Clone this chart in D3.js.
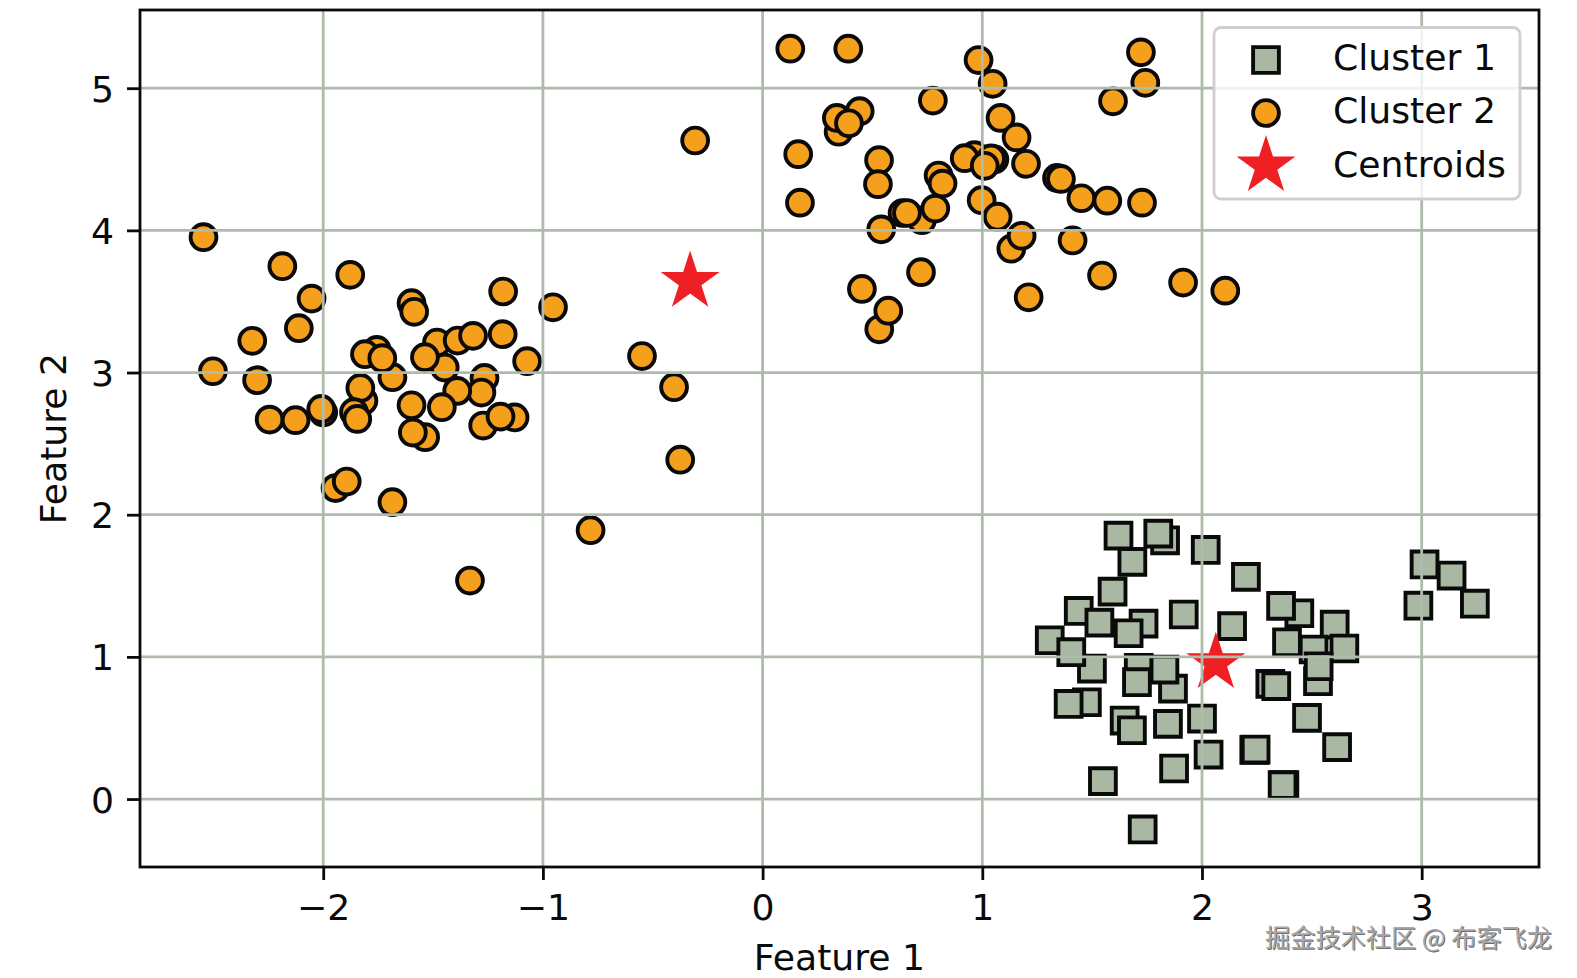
<!DOCTYPE html>
<html>
<head>
<meta charset="utf-8">
<style>
  html, body { margin: 0; padding: 0; background: #fff; }
  svg { display: block; }
  text { font-family: "DejaVu Sans", sans-serif; fill: #0a0a0a; }
</style>
<script src="https://cdn.jsdelivr.net/npm/d3@7"></script>
</head>
<body>
<svg id="chart"></svg>
<script>
// Values
const cluster1X = [1.62, 1.832, 1.801, 2.017, 1.683, 2.2, 1.593, 2.443, 2.36, 1.439, 1.734, 1.533, 1.666, 1.917, 2.137,
  2.604, 1.307, 1.499, 1.405, 2.387, 2.508, 2.648, 2.528, 2.531, 1.712, 1.868, 1.829, 1.704, 2.311, 2.338,
  1.476, 1.393, 1.648, 1.681, 1.845, 2.0, 2.478, 2.03, 2.238, 2.244, 2.615, 1.873, 1.549, 2.375, 2.367, 1.73,
  3.013, 3.136, 2.985, 3.242];
const cluster1Y = [1.853, 1.82, 1.867, 1.752, 1.668, 1.563, 1.459, 1.307, 1.359, 1.323, 1.234, 1.241, 1.166, 1.298, 1.216,
  1.227, 1.117, 0.918, 1.033, 1.103, 1.052, 1.059, 0.829, 0.934, 0.923, 0.777, 0.911, 0.822, 0.81, 0.794,
  0.681, 0.669, 0.552, 0.484, 0.529, 0.566, 0.571, 0.313, 0.346, 0.348, 0.365, 0.215, 0.126, 0.098, 0.098, -0.214,
  1.65, 1.572, 1.36, 1.374];

const cluster2X = [-2.545, -2.186, -1.877, -2.053, -2.111, -2.323, -2.502, -2.301, -2.244, -2.126, -2.0, -2.009,
  -1.598, -1.586, -1.181, -0.954, -1.183, -1.482, -1.388, -1.318, -1.447, -1.537, -1.756, -1.81, -1.685, -1.731,
  -1.072, -1.266, -1.28, -1.39, -1.817, -1.831, -1.86, -1.845, -1.598, -1.46, -1.129, -1.272, -1.193, -1.536, -1.592,
  -1.944, -1.893, -1.685, -1.332, -0.783, -0.375, -0.403, -0.549, -0.307,
  0.126, 0.39, 0.983, 1.047, 1.722, 1.742, 1.595, 0.775, 0.442, 0.346, 0.338, 0.393, 1.083, 1.156, 0.162, 0.53, 0.525,
  0.17, 0.964, 0.92, 1.055, 1.04, 1.011, 1.199, 0.801, 0.819, 1.34, 1.358, 1.451, 1.569, 1.727, 0.997, 1.07, 0.725,
  0.786, 0.637, 0.657, 0.54, 1.132, 1.179, 1.411, 1.545, 0.721, 0.452, 0.531, 0.572, 1.211, 1.914, 2.106];
const cluster2Y = [3.952, 3.748, 3.687, 3.52, 3.312, 3.223, 3.009, 2.946, 2.669, 2.665, 2.719, 2.744,
  3.488, 3.427, 3.57, 3.459, 3.27, 3.211, 3.225, 3.258, 3.035, 3.108, 3.159, 3.129, 2.967, 3.101,
  3.08, 2.962, 2.859, 2.871, 2.801, 2.892, 2.721, 2.674, 2.77, 2.756, 2.684, 2.627, 2.69, 2.545, 2.578,
  2.187, 2.233, 2.088, 1.537, 1.891, 2.387, 2.897, 3.116, 4.632,
  5.278, 5.278, 5.198, 5.031, 5.252, 5.038, 4.908, 4.913, 4.838, 4.694, 4.791, 4.753, 4.791, 4.654, 4.536, 4.494, 4.325,
  4.195, 4.529, 4.508, 4.499, 4.506, 4.454, 4.468, 4.386, 4.329, 4.369, 4.362, 4.226, 4.209, 4.195, 4.212, 4.096, 4.071,
  4.153, 4.122, 4.122, 4.007, 3.871, 3.962, 3.929, 3.682, 3.706, 3.588, 3.304, 3.435, 3.529, 3.633, 3.576];

const centroidX = [2.063, -0.33];
const centroidY = [0.958, 3.64];

const xTicks = [-2, -1, 0, 1, 2, 3];
const yTicks = [0, 1, 2, 3, 4, 5];
const legendLabels = ['Cluster 1', 'Cluster 2', 'Centroids'];

const WIDTH = 1577, HEIGHT = 978;
const LEFT = 140, RIGHT = 1539, TOP = 10, BOTTOM = 867;
const FONT = 36.2;
const GRID = '#b0bcab', SQUARE = '#a9b8a2', ORANGE = '#f5a01d', RED = '#ee2024', INK = '#0a0a0a';

const svg = d3.select('#chart').attr('width', WIDTH).attr('height', HEIGHT);

const x = d3.scaleLinear().domain([-2.834, 3.534]).range([LEFT, RIGHT]);
const y = d3.scaleLinear().domain([-0.478, 5.55]).range([BOTTOM, TOP]);

const squareSym = d3.symbol(d3.symbolSquare, 25.8 * 25.8);
const circleSym = d3.symbol(d3.symbolCircle, Math.PI * 12.9 * 12.9);
const starSym   = d3.symbol(d3.symbolStar, 1079);

const minusFmt = d => String(d).replace('-', '\u2212');

// Markers sit under the grid in this figure
const marks = svg.append('g');

marks.append('g')
  .selectAll('path')
  .data(d3.zip(cluster1X, cluster1Y))
  .join('path')
  .attr('d', squareSym)
  .attr('transform', d => `translate(${x(d[0])},${y(d[1])})`)
  .attr('fill', SQUARE)
  .attr('stroke', INK)
  .attr('stroke-width', 3.9);

marks.append('g')
  .selectAll('path')
  .data(d3.zip(cluster2X, cluster2Y))
  .join('path')
  .attr('d', circleSym)
  .attr('transform', d => `translate(${x(d[0])},${y(d[1])})`)
  .attr('fill', ORANGE)
  .attr('stroke', INK)
  .attr('stroke-width', 3.9);

marks.append('g')
  .selectAll('path')
  .data(d3.zip(centroidX, centroidY))
  .join('path')
  .attr('d', starSym)
  .attr('transform', d => `translate(${x(d[0])},${y(d[1])})`)
  .attr('fill', RED);

// Grid
const grid = svg.append('g').attr('stroke', GRID).attr('stroke-width', 2.8);
grid.selectAll('line.gx').data(xTicks).join('line').attr('class', 'gx')
  .attr('x1', d => x(d)).attr('x2', d => x(d)).attr('y1', TOP).attr('y2', BOTTOM);
grid.selectAll('line.gy').data(yTicks).join('line').attr('class', 'gy')
  .attr('x1', LEFT).attr('x2', RIGHT).attr('y1', d => y(d)).attr('y2', d => y(d));

// Axes
const xAxis = svg.append('g')
  .attr('transform', `translate(0,${BOTTOM})`)
  .call(d3.axisBottom(x).tickValues(xTicks).tickFormat(minusFmt).tickSize(13).tickPadding(14).tickSizeOuter(0));
const yAxis = svg.append('g')
  .attr('transform', `translate(${LEFT},0)`)
  .call(d3.axisLeft(y).tickValues(yTicks).tickFormat(minusFmt).tickSize(13).tickPadding(13).tickSizeOuter(0));

[xAxis, yAxis].forEach(a => {
  a.select('.domain').remove();
  a.selectAll('line').attr('stroke', INK).attr('stroke-width', 2.8);
  a.selectAll('text').attr('font-size', FONT).attr('font-family', '"DejaVu Sans"').attr('fill', INK);
});
yAxis.selectAll('text').attr('dy', '0.36em');

svg.append('rect')
  .attr('x', LEFT).attr('y', TOP)
  .attr('width', RIGHT - LEFT).attr('height', BOTTOM - TOP)
  .attr('fill', 'none').attr('stroke', INK).attr('stroke-width', 2.8);

svg.append('text')
  .attr('x', (LEFT + RIGHT) / 2).attr('y', 970)
  .attr('text-anchor', 'middle').attr('font-size', FONT)
  .text('Feature 1');

svg.append('text')
  .attr('transform', `translate(66,${(TOP + BOTTOM) / 2}) rotate(-90)`)
  .attr('text-anchor', 'middle').attr('font-size', FONT)
  .text('Feature 2');

// Legend
const legend = svg.append('g');
legend.append('rect')
  .attr('x', 1214).attr('y', 27.5).attr('width', 306).attr('height', 171.5).attr('rx', 7)
  .attr('fill', '#fff').attr('fill-opacity', 0.8)
  .attr('stroke', '#cfcfcf').attr('stroke-width', 2.8);

const legendSyms = [
  { d: squareSym(), fill: SQUARE, stroke: INK },
  { d: circleSym(), fill: ORANGE, stroke: INK },
  { d: starSym(), fill: RED, stroke: 'none' }
];
const legendRows = [60, 113, 166];
legendLabels.forEach((label, i) => {
  legend.append('path')
    .attr('d', legendSyms[i].d)
    .attr('transform', `translate(1266,${legendRows[i]})`)
    .attr('fill', legendSyms[i].fill)
    .attr('stroke', legendSyms[i].stroke)
    .attr('stroke-width', 3.9);
  legend.append('text')
    .attr('x', 1333).attr('y', 69.5 + i * 53.5)
    .attr('font-size', FONT)
    .text(label);
});

// Site watermark, bottom right
svg.append('text')
  .attr('x', 1265).attr('y', 947)
  .attr('font-size', 25.2)
  .style('font-family', '"Noto Sans CJK SC", sans-serif')
  .style('fill', '#a8a8a8')
  .style('text-shadow', '1px 1px 0 #6e6e6e')
  .text('掘金技术社区 @ 布客飞龙');
</script>
</body>
</html>
